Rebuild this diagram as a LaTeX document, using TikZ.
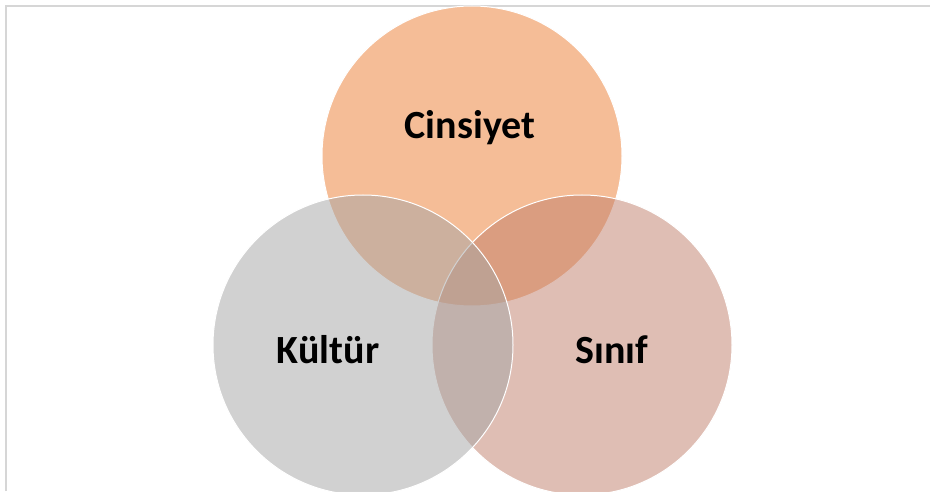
\documentclass[tikz,border=0pt]{standalone}
\usepackage{fontspec}
\setmainfont{Carlito}
\definecolor{cinsC}{HTML}{ED7D31}
\definecolor{kultC}{HTML}{A5A5A5}
\definecolor{sinifC}{HTML}{C17F6B}
\definecolor{frameC}{HTML}{D6D6D6}
\begin{document}
\begin{tikzpicture}[x=1pt,y=1pt,
  venn/.style={draw=white,line width=1pt,fill opacity=0.5},
  lbl/.style={font=\fontsize{40}{47}\selectfont\bfseries,text=black,anchor=base,inner sep=0pt}]
\useasboundingbox (0,0) rectangle (930,491);
\fill[white] (0,0) rectangle (930,491);
\coordinate (ftl) at (6,485);
\coordinate (ftr) at (930,485);
\coordinate (fbl) at (6,0);
\draw[frameC,line width=1.5pt] (fbl) -- (ftl) -- (ftr);
\node[venn,fill=cinsC,circle,minimum size=300pt,inner sep=0pt] (cins) at (472,335) {};
\node[venn,fill=sinifC,circle,minimum size=300pt,inner sep=0pt] (sinif) at (582,146) {};
\node[venn,fill=kultC,circle,minimum size=300pt,inner sep=0pt] (kult) at (363,146) {};
\node[lbl] (tcins) at (470,352) {Cinsiyet};
\node[lbl] (tkult) at (328,128) {Kültür};
\node[lbl] (tsinif) at (612,128) {Sınıf};
\end{tikzpicture}
\end{document}
